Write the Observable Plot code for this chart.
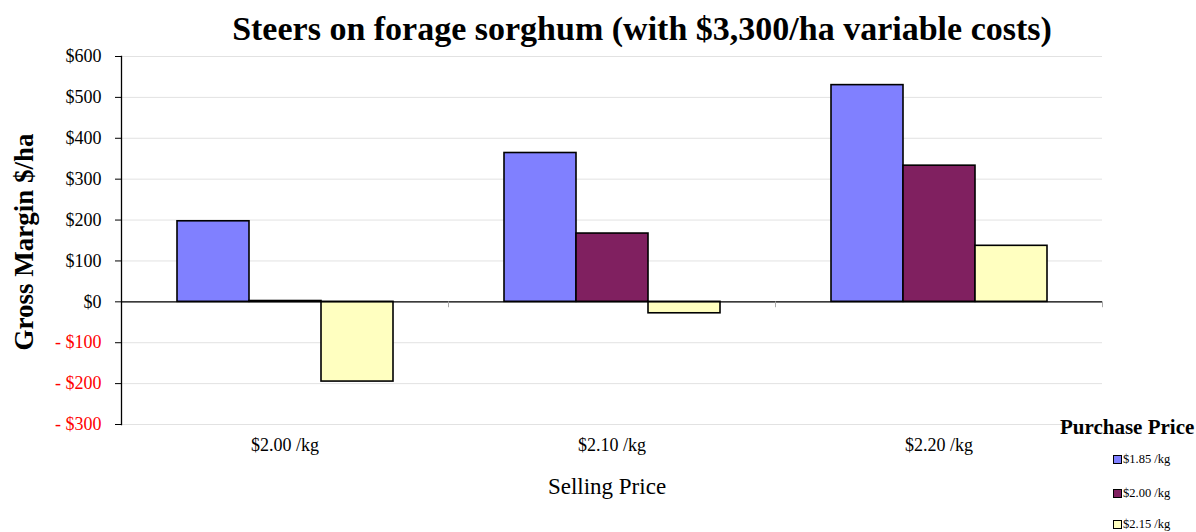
<!DOCTYPE html>
<html>
<head>
<meta charset="utf-8">
<script src="https://cdn.jsdelivr.net/npm/d3@7"></script>
<script src="https://cdn.jsdelivr.net/npm/@observablehq/plot@0.6"></script>
<style>
  html, body { margin: 0; padding: 0; background: #fff; }
  #wrap { position: relative; width: 1196px; height: 532px; font-family: "Liberation Serif", "Times New Roman", serif; color: #000; overflow: hidden; }
  #wrap svg { position: absolute; left: 0; top: 0; }
  .title { position: absolute; left: 0; width: 1284px; text-align: center; top: 10px; font-size: 34px; font-weight: bold; white-space: nowrap; }
  .ylabel { position: absolute; left: 24px; top: 242px; transform: translate(-50%, -50%) rotate(-90deg); font-size: 27px; font-weight: bold; white-space: nowrap; }
  .xlabel { position: absolute; left: 607px; top: 487px; transform: translate(-50%, -50%); font-size: 23px; white-space: nowrap; }
  .legend-title { position: absolute; left: 1060px; top: 415px; font-size: 21px; font-weight: bold; white-space: nowrap; }
  .legend-item { position: absolute; left: 1113px; font-size: 12.5px; white-space: nowrap; display: flex; align-items: center; }
  .legend-item span.sw { display: inline-block; width: 7px; height: 7px; border: 1px solid #000; margin-right: 1px; }
</style>
</head>
<body>
<div id="wrap"></div>
<script>
// ---- data ----
const title = "Steers on forage sorghum (with $3,300/ha variable costs)";
const yLabel = "Gross Margin $/ha";
const xLabel = "Selling Price";
const legendTitle = "Purchase Price";
const sellingPrices = ["$2.00 /kg", "$2.10 /kg", "$2.20 /kg"];
const purchasePrices = ["$1.85 /kg", "$2.00 /kg", "$2.15 /kg"];
const margins185 = [197, 364, 530];
const margins200 = [2, 167, 333];
const margins215 = [-195, -28, 137];
const seriesColors = ["#8080FF", "#802060", "#FFFFC0"];
const yTicks = [-300, -200, -100, 0, 100, 200, 300, 400, 500, 600];

// ---- table ----
const seriesValues = [margins185, margins200, margins215];
const rows = [];
sellingPrices.forEach((s, i) => {
  purchasePrices.forEach((p, j) => {
    rows.push({selling: s, purchase: p, value: seriesValues[j][i]});
  });
});

const fmt = d => d < 0 ? `- $${-d}` : `$${d}`;

const marks = [
  Plot.gridY(yTicks, {stroke: "#e2e2e2", strokeOpacity: 1, strokeWidth: 1}),
  Plot.barY(rows, {fx: "selling", x: "purchase", y: "value", fill: "purchase", stroke: "#000", strokeWidth: 1.6}),
  Plot.ruleY([0], {stroke: "#000", strokeWidth: 1.3}),
  Plot.axisY(yTicks.filter(d => d >= 0), {anchor: "left", tickSize: 6, tickPadding: 14, tickFormat: fmt, fontSize: 18, fill: "#000", stroke: "#000", label: null}),
  Plot.axisY(yTicks.filter(d => d < 0), {anchor: "left", tickSize: 6, tickPadding: 14, tickFormat: fmt, fontSize: 18, fill: "#ff0000", stroke: "#000", label: null}),
  Plot.axisFx({anchor: "bottom", tickSize: 0, tickPadding: 14, fontSize: 18, label: null}),
  Plot.frame({anchor: "left", facetAnchor: "left", stroke: "#000", strokeWidth: 1.3})
];
try {
  marks.push(Plot.vector([0], {
    y: d => d, frameAnchor: "right", length: 5, rotate: 180, anchor: "start",
    stroke: "#aaa", strokeWidth: 1,
    shape: {draw(context, l) { context.moveTo(0, 0); context.lineTo(0, -l); }}
  }));
} catch (e) {}

const chart = Plot.plot({
  width: 1196,
  height: 532,
  marginLeft: 120,
  marginRight: 93,
  marginTop: 56,
  marginBottom: 108,
  style: {fontFamily: "Liberation Serif, Times New Roman, serif", fontSize: "18px", color: "#000", background: "transparent"},
  fx: {domain: sellingPrices, padding: 0, label: null},
  x: {domain: purchasePrices, paddingInner: 0, paddingOuter: 0.75, axis: null},
  y: {domain: [-300, 600], axis: null},
  color: {domain: purchasePrices, range: seriesColors},
  marks
});

const wrap = document.getElementById("wrap");
wrap.appendChild(chart);

function addDiv(cls, text, top) {
  const d = document.createElement("div");
  d.className = cls;
  d.textContent = text;
  if (top !== undefined) d.style.top = top + "px";
  wrap.appendChild(d);
  return d;
}
addDiv("title", title);
addDiv("ylabel", yLabel);
addDiv("xlabel", xLabel);
addDiv("legend-title", legendTitle);
const legendTops = [452, 486, 517];
purchasePrices.forEach((p, i) => {
  const item = document.createElement("div");
  item.className = "legend-item";
  item.style.top = legendTops[i] + "px";
  const sw = document.createElement("span");
  sw.className = "sw";
  sw.style.background = seriesColors[i];
  item.appendChild(sw);
  item.appendChild(document.createTextNode(p));
  wrap.appendChild(item);
});
</script>
</body>
</html>
